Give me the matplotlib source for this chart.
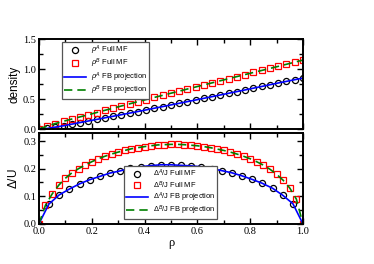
import matplotlib
matplotlib.use('Agg')
import matplotlib.pyplot as plt
from matplotlib.ticker import MultipleLocator

# top panel: densities vs filling rho (33 points)
rho_top = [0.0, 0.03125, 0.0625, 0.09375, 0.125, 0.15625, 0.1875, 0.21875, 0.25,
           0.28125, 0.3125, 0.34375, 0.375, 0.40625, 0.4375, 0.46875, 0.5,
           0.53125, 0.5625, 0.59375, 0.625, 0.65625, 0.6875, 0.71875, 0.75,
           0.78125, 0.8125, 0.84375, 0.875, 0.90625, 0.9375, 0.96875, 1.0]
rhoA = [0.0, 0.011, 0.033, 0.056, 0.083, 0.109, 0.135, 0.161, 0.188, 0.214, 0.240,
        0.266, 0.293, 0.320, 0.348, 0.375, 0.403, 0.430, 0.458, 0.485, 0.513,
        0.541, 0.569, 0.597, 0.625, 0.653, 0.682, 0.710, 0.739, 0.768, 0.795,
        0.823, 0.850]
rhoB = [0.0, 0.051, 0.093, 0.131, 0.168, 0.204, 0.240, 0.276, 0.313, 0.349, 0.385,
        0.421, 0.458, 0.492, 0.528, 0.563, 0.598, 0.632, 0.668, 0.702, 0.737,
        0.771, 0.806, 0.841, 0.875, 0.909, 0.944, 0.977, 1.011, 1.045, 1.080,
        1.115, 1.150]

# bottom panel: gaps
rho_gapA = [0.0, 0.038, 0.077, 0.115, 0.154, 0.192, 0.231, 0.269, 0.308, 0.346,
            0.385, 0.423, 0.462, 0.5, 0.538, 0.577, 0.615, 0.654, 0.692, 0.731,
            0.769, 0.808, 0.846, 0.885, 0.923, 0.962, 1.0]
gapA = [0.0, 0.072, 0.105, 0.126, 0.145, 0.160, 0.172, 0.184, 0.192, 0.201, 0.207,
        0.211, 0.214, 0.214, 0.212, 0.210, 0.207, 0.200, 0.193, 0.185, 0.174,
        0.161, 0.147, 0.129, 0.104, 0.073, 0.0]
rho_gapB = [0.0, 0.025, 0.05, 0.075, 0.1, 0.125, 0.15, 0.175, 0.2, 0.225, 0.25,
            0.275, 0.3, 0.325, 0.35, 0.375, 0.4, 0.425, 0.45, 0.475, 0.5, 0.525,
            0.55, 0.575, 0.6, 0.625, 0.65, 0.675, 0.7, 0.725, 0.75, 0.775, 0.8,
            0.825, 0.85, 0.875, 0.9, 0.925, 0.95, 0.975, 1.0]
gapB = [0.0, 0.068, 0.108, 0.140, 0.165, 0.185, 0.200, 0.213, 0.225, 0.236, 0.245,
        0.253, 0.260, 0.266, 0.272, 0.276, 0.280, 0.283, 0.286, 0.287, 0.288,
        0.288, 0.287, 0.285, 0.283, 0.280, 0.276, 0.271, 0.266, 0.260, 0.253,
        0.245, 0.236, 0.225, 0.213, 0.198, 0.180, 0.158, 0.130, 0.090, 0.0]

plt.rcParams['font.family'] = ['Liberation Serif', 'DejaVu Serif']
plt.rcParams['mathtext.fontset'] = 'custom'
plt.rcParams['mathtext.rm'] = 'Liberation Sans'
plt.rcParams['mathtext.it'] = 'Liberation Sans:italic'

fig = plt.figure(figsize=(3.74, 2.64), dpi=100)
ax1 = fig.add_axes([0.104, 0.511, 0.706, 0.341])
ax2 = fig.add_axes([0.104, 0.152, 0.706, 0.345])

mk = dict(markersize=4.4, markeredgewidth=0.9, markerfacecolor='none', linestyle='none')

ax1.plot(rho_top, rhoA, marker='o', color='black', label=r'$\rho^A$ Full MF', **mk)
ax1.plot(rho_top, rhoB, marker='s', color='red', label=r'$\rho^B$ Full MF', **mk)
ax1.plot(rho_top, rhoA, color='blue', lw=1.2, label=r'$\rho^A$ FB projection')
ax1.plot(rho_top, rhoB, color='green', lw=1.2, ls=(0, (5, 3)), label=r'$\rho^B$ FB projection')

ax2.plot(rho_gapA, gapA, marker='o', color='black', label=r'$\Delta^A$/J Full MF', **mk)
ax2.plot(rho_gapB, gapB, marker='s', color='red', label=r'$\Delta^B$/J Full MF', **mk)
ax2.plot(rho_gapA, gapA, color='blue', lw=1.2, label=r'$\Delta^A$/J FB projection')
ax2.plot(rho_gapB, gapB, color='green', lw=1.2, ls=(0, (5, 3)), label=r'$\Delta^B$/J FB projection')

for ax in (ax1, ax2):
    ax.set_xlim(0, 1)
    ax.xaxis.set_major_locator(MultipleLocator(0.2))
    ax.xaxis.set_minor_locator(MultipleLocator(0.1))
    ax.tick_params(which='both', direction='in', top=True, right=True,
                   labelsize=7.5, width=1, pad=2)
    ax.tick_params(which='major', length=4)
    ax.tick_params(which='minor', length=3)
    for s in ax.spines.values():
        s.set_linewidth(1.4)

ax1.set_ylim(0, 1.5)
ax1.yaxis.set_major_locator(MultipleLocator(0.5))
ax1.yaxis.set_minor_locator(MultipleLocator(0.25))
ax1.tick_params(labelbottom=False)
ax1.set_ylabel('density', family='Liberation Sans', fontsize=8.5, labelpad=2)

ax2.set_ylim(0, 0.33)
ax2.yaxis.set_major_locator(MultipleLocator(0.1))
ax2.yaxis.set_minor_locator(MultipleLocator(0.05))
ax2.set_ylabel(r'$\Delta$/U', family='Liberation Sans', fontsize=8.5, labelpad=2)
ax2.set_xlabel('ρ', fontsize=9, labelpad=1)

leg_kw = dict(prop={'family': 'Liberation Sans', 'size': 5.4}, fancybox=False,
              edgecolor='#555555', framealpha=1, handlelength=3.0, borderpad=0.25,
              labelspacing=0.02, handletextpad=0.6, borderaxespad=0)
l1 = ax1.legend(loc='upper left', bbox_to_anchor=(0.087, 0.97), **leg_kw)
l1.get_frame().set_linewidth(0.9)
l2 = ax2.legend(loc='lower left', bbox_to_anchor=(0.322, 0.05), **leg_kw)
l2.get_frame().set_linewidth(0.9)

fig.savefig('out.png', dpi=100)
